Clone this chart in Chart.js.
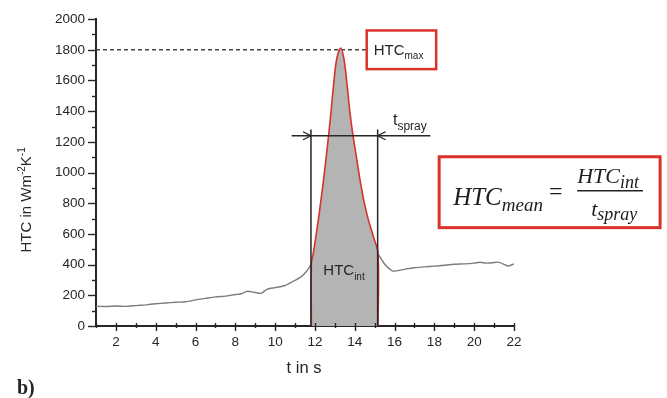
<!DOCTYPE html>
<html>
<head>
<meta charset="utf-8">
<script src="https://cdn.jsdelivr.net/npm/chart.js@4.4.1/dist/chart.umd.min.js"></script>
<style>
  html, body { margin: 0; padding: 0; background: #fff; }
</style>
</head>
<body>
<canvas id="htcChart" width="667" height="398"></canvas>
<script>
/* HTC over time during one spray pulse */

// measured curve before the spray (t in s, HTC in W/m2K)
const preSprayTime = [1, 1.5, 2, 2.5, 3, 3.5, 4, 4.5, 5, 5.5, 6, 6.5, 7, 7.5, 8, 8.3, 8.6, 9, 9.3, 9.6, 10, 10.5, 11, 11.3, 11.6, 11.82];
const preSprayHtc  = [128, 127, 130, 128, 133, 138, 145, 150, 155, 158, 170, 180, 190, 195, 205, 210, 226, 218, 213, 240, 250, 264, 298, 320, 360, 405];

// measured curve after the spray
const postSprayTime = [15.17, 15.4, 15.6, 15.9, 16.2, 16.6, 17, 17.5, 18, 18.5, 19, 19.5, 20, 20.3, 20.6, 20.9, 21.2, 21.5, 21.7, 22];
const postSprayHtc  = [470, 422, 389, 358, 362, 372, 380, 385, 390, 396, 402, 405, 410, 415, 410, 412, 416, 402, 390, 405];

// spray peak (area = HTC_int)
const sprayTime = [11.82, 11.82, 11.92, 12.17, 12.39, 12.59, 12.78, 12.95, 13.1, 13.3, 13.45, 13.6, 13.75, 13.9, 14.05, 14.18, 14.32, 14.48, 14.68, 14.93, 15.17, 15.17];
const sprayHtc  = [0, 405, 477, 693, 910, 1129, 1360, 1590, 1745, 1812, 1745, 1590, 1400, 1250, 1129, 1019, 910, 802, 693, 585, 470, 0];

// tick labels
const xTickLabels = ['2', '4', '6', '8', '10', '12', '14', '16', '18', '20', '22'];
const yTickLabels = ['0', '200', '400', '600', '800', '1000', '1200', '1400', '1600', '1800', '2000'];

// annotation levels
const sprayStart = 11.8;
const sprayEnd = 15.15;
const htcMaxLevel = 1800;
const sprayArrowLevel = 1240;

const toPoints = (xs, ys) => xs.map((x, i) => ({ x: x, y: ys[i] }));

const grayCurve = [
    ...toPoints(preSprayTime, preSprayHtc),
    { x: 13.5, y: null },
    ...toPoints(postSprayTime, postSprayHtc)
];

const SANS = '"Liberation Sans", Arial, sans-serif';
const SERIF = '"Liberation Serif", "Times New Roman", serif';
const RED = '#d8322a';
const INK = '#262626';

// text with a lowered (or raised) small part
function drawWithSub(ctx, main, sub, x, y, mainFont, subFont, dy) {
    ctx.font = mainFont;
    ctx.fillText(main, x, y);
    const w = ctx.measureText(main).width;
    ctx.font = subFont;
    ctx.fillText(sub, x + w, y + dy);
    return w + ctx.measureText(sub).width;
}

const axisTicks = {
    id: 'axisTicks',
    afterDraw(chart) {
        const { ctx, scales: { x, y } } = chart;
        ctx.save();
        ctx.strokeStyle = INK;
        ctx.lineWidth = 1.4;
        const x0 = x.left;
        const y0 = y.bottom;
        y.ticks.forEach(t => {
            const py = Math.round(y.getPixelForValue(t.value)) + 0.5;
            const len = t.value % 200 === 0 ? 8 : 4;
            ctx.beginPath();
            ctx.moveTo(x0 - len, py);
            ctx.lineTo(x0, py);
            ctx.stroke();
        });
        x.ticks.forEach(t => {
            const px = Math.round(x.getPixelForValue(t.value)) + 0.5;
            const major = t.value % 2 === 0;
            ctx.beginPath();
            ctx.moveTo(px, y0 - 3);
            ctx.lineTo(px, y0 + (major ? 5 : 2));
            ctx.stroke();
        });
        ctx.restore();
    }
};

const annotations = {
    id: 'annotations',
    beforeDatasetsDraw(chart) {
        const { ctx, scales: { x, y } } = chart;
        // dashed HTCmax level
        const py = y.getPixelForValue(htcMaxLevel);
        ctx.save();
        ctx.strokeStyle = '#444';
        ctx.lineWidth = 1.5;
        ctx.setLineDash([4, 3]);
        ctx.beginPath();
        ctx.moveTo(x.left, py);
        ctx.lineTo(x.getPixelForValue(14.6), py);
        ctx.stroke();
        ctx.restore();
    },
    afterDatasetsDraw(chart) {
        const { ctx, scales: { x, y } } = chart;
        ctx.save();
        ctx.fillStyle = INK;
        ctx.strokeStyle = INK;
        ctx.textBaseline = 'alphabetic';

        // t_spray markers
        const xs = x.getPixelForValue(sprayStart);
        const xe = x.getPixelForValue(sprayEnd);
        const ya = y.getPixelForValue(sprayArrowLevel);
        const yTop = y.getPixelForValue(1280);
        ctx.lineWidth = 1.5;
        ctx.beginPath();
        ctx.moveTo(xs, yTop); ctx.lineTo(xs, y.bottom);
        ctx.moveTo(xe, yTop); ctx.lineTo(xe, y.bottom);
        ctx.moveTo(x.getPixelForValue(10.83), ya);
        ctx.lineTo(x.getPixelForValue(17.8), ya);
        ctx.stroke();
        ctx.lineWidth = 1.3;
        ctx.beginPath();
        ctx.moveTo(xs - 8, ya - 4); ctx.lineTo(xs, ya); ctx.lineTo(xs - 8, ya + 4);
        ctx.moveTo(xe + 8, ya - 4); ctx.lineTo(xe, ya); ctx.lineTo(xe + 8, ya + 4);
        ctx.stroke();

        drawWithSub(ctx, 't', 'spray', x.getPixelForValue(15.92), y.getPixelForValue(1312),
            '16px ' + SANS, '12px ' + SANS, 5);

        // HTC_int label on the shaded area
        drawWithSub(ctx, 'HTC', 'int', x.getPixelForValue(12.42), y.getPixelForValue(335),
            '15px ' + SANS, '10px ' + SANS, 5);

        // HTC_max box
        const bx0 = x.getPixelForValue(14.6), bx1 = x.getPixelForValue(18.09);
        const by0 = y.getPixelForValue(1926), by1 = y.getPixelForValue(1674);
        ctx.fillStyle = '#fff';
        ctx.fillRect(bx0, by0, bx1 - bx0, by1 - by0);
        ctx.strokeStyle = RED;
        ctx.lineWidth = 2.5;
        ctx.strokeRect(bx0, by0, bx1 - bx0, by1 - by0);
        ctx.fillStyle = INK;
        drawWithSub(ctx, 'HTC', 'max', bx0 + 7, by0 + 25, '15px ' + SANS, '10px ' + SANS, 4);

        // HTC_mean formula box
        const fx0 = x.getPixelForValue(18.24), fx1 = x.getPixelForValue(29.34);
        const fy0 = y.getPixelForValue(1103), fy1 = y.getPixelForValue(641);
        ctx.strokeStyle = RED;
        ctx.lineWidth = 3;
        ctx.strokeRect(fx0, fy0, fx1 - fx0, fy1 - fy0);
        ctx.fillStyle = '#1e1e1e';
        const lhs = drawWithSub(ctx, 'HTC', 'mean', fx0 + 14, fy0 + 48,
            'italic 25px ' + SERIF, 'italic 19px ' + SERIF, 6);
        ctx.font = '24px ' + SERIF;
        ctx.fillText('=', fx0 + 14 + lhs + 6, fy0 + 42);
        const nx = fx0 + 138;
        const nw = drawWithSub(ctx, 'HTC', 'int', nx, fy0 + 26,
            'italic 22px ' + SERIF, 'italic 18px ' + SERIF, 5);
        ctx.strokeStyle = '#222';
        ctx.lineWidth = 1.5;
        ctx.beginPath();
        ctx.moveTo(nx, fy0 + 34);
        ctx.lineTo(nx + nw + 4, fy0 + 34);
        ctx.stroke();
        drawWithSub(ctx, 't', 'spray', nx + 14, fy0 + 59,
            'italic 22px ' + SERIF, 'italic 18px ' + SERIF, 4);
        ctx.restore();
    },
    afterDraw(chart) {
        const { ctx, scales: { x, y } } = chart;
        ctx.save();
        ctx.fillStyle = INK;
        // y title with superscripts
        ctx.translate(31, (y.top + y.bottom) / 2 + 28);
        ctx.rotate(-Math.PI / 2);
        let cx = -52;
        const parts = [['HTC in Wm', 0], ['-2', 1], ['K', 0], ['-1', 1]];
        parts.forEach(([txt, sup]) => {
            ctx.font = sup ? '10px ' + SANS : '15px ' + SANS;
            ctx.fillText(txt, cx, sup ? -6 : 0);
            cx += ctx.measureText(txt).width;
        });
        ctx.restore();

        ctx.save();
        ctx.fillStyle = INK;
        ctx.font = '16.5px ' + SANS;
        ctx.textAlign = 'center';
        ctx.fillText('t in s', x.getPixelForValue(11.45), 373);
        ctx.textAlign = 'left';
        ctx.font = 'bold 20px ' + SERIF;
        ctx.fillText('b)', 17, 394);
        ctx.restore();
    }
};

new Chart(document.getElementById('htcChart'), {
    type: 'line',
    data: {
        datasets: [{
            data: toPoints(sprayTime, sprayHtc),
            borderColor: RED,
            borderWidth: 1.6,
            backgroundColor: '#b4b4b4',
            fill: 'origin',
            tension: 0.35,
            pointRadius: 0
        }, {
            data: grayCurve,
            borderColor: '#7c7c7c',
            borderWidth: 1.4,
            fill: false,
            spanGaps: false,
            tension: 0.2,
            pointRadius: 0
        }]
    },
    options: {
        responsive: false,
        devicePixelRatio: 1,
        animation: false,
        layout: { padding: { left: 0, top: 19, right: 153, bottom: 0 } },
        plugins: { legend: { display: false }, tooltip: { enabled: false } },
        scales: {
            x: {
                type: 'linear',
                min: 1,
                max: 22,
                afterFit: (scale) => { scale.height = 72; },
                grid: { display: false, drawTicks: false },
                border: { display: true, color: INK, width: 2 },
                ticks: {
                    stepSize: 1,
                    autoSkip: false,
                    maxRotation: 0,
                    padding: 8,
                    color: INK,
                    font: { family: SANS, size: 13.5 },
                    callback: (v) => xTickLabels.includes(String(v)) ? String(v) : ''
                }
            },
            y: {
                type: 'linear',
                min: 0,
                max: 2000,
                afterFit: (scale) => { scale.width = 96; },
                grid: { display: false, drawTicks: false },
                border: { display: true, color: INK, width: 2 },
                ticks: {
                    stepSize: 100,
                    autoSkip: false,
                    padding: 11,
                    color: INK,
                    font: { family: SANS, size: 13.5 },
                    callback: (v) => yTickLabels.includes(String(v)) ? String(v) : ''
                }
            }
        }
    },
    plugins: [axisTicks, annotations]
});
</script>
</body>
</html>
